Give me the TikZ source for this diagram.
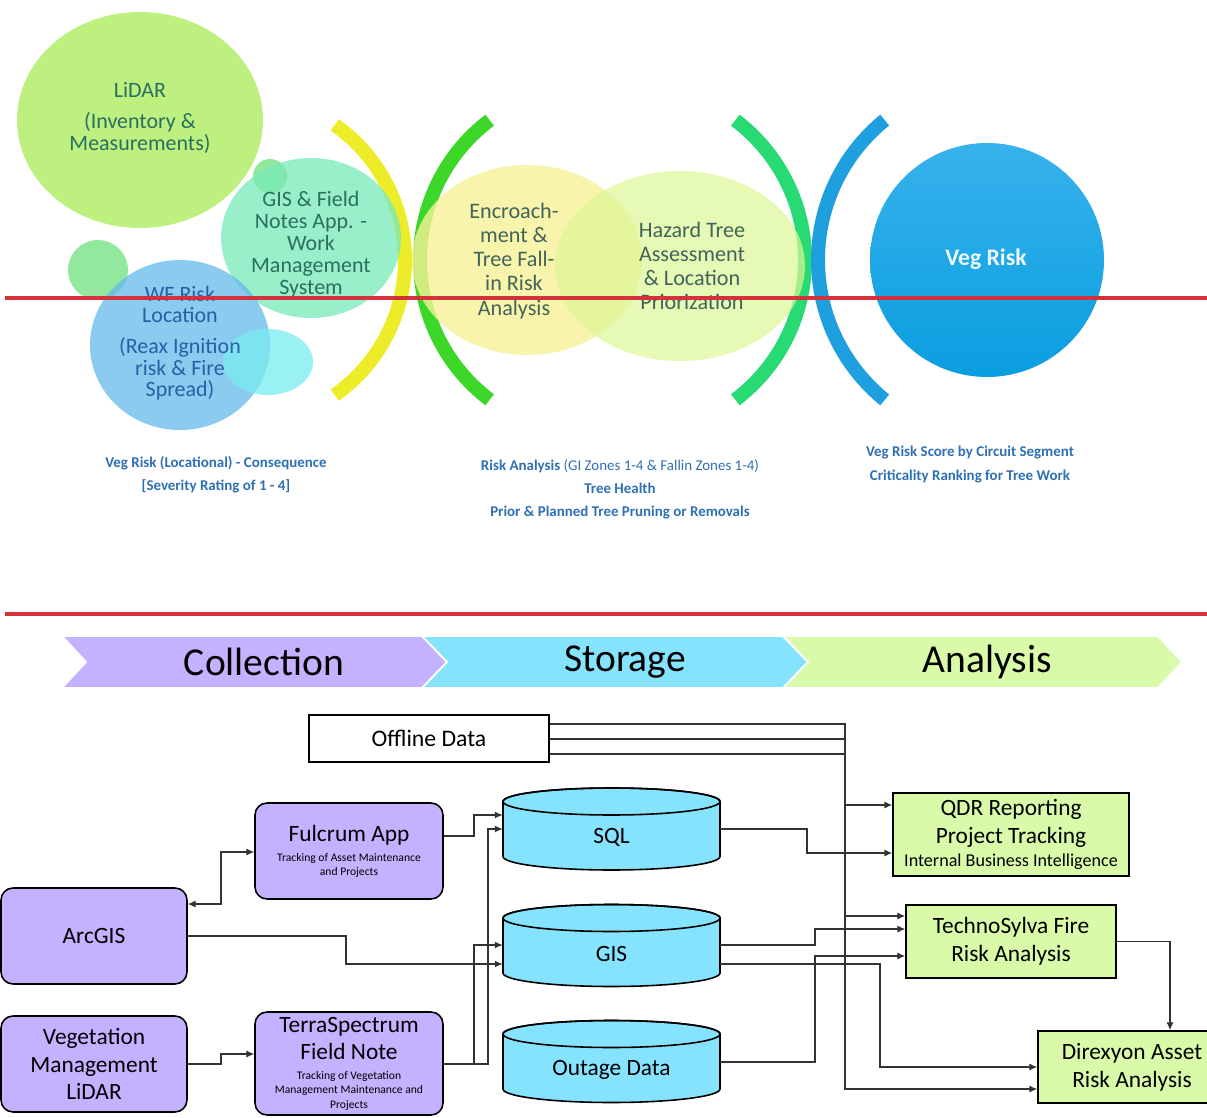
\documentclass[tikz,border=0pt]{standalone}
\usepackage{fontspec}
\setmainfont{Carlito}
\usetikzlibrary{arrows.meta,calc}
\definecolor{lidarfill}{RGB}{190,240,128}
\definecolor{dotgreen}{RGB}{110,225,125}
\definecolor{gisfill}{RGB}{120,233,185}
\definecolor{wffill}{RGB}{100,185,235}
\definecolor{cyanfill}{RGB}{120,236,240}
\definecolor{arcyellow}{RGB}{236,236,40}
\definecolor{arcgreen}{RGB}{60,215,40}
\definecolor{arcmint}{RGB}{40,218,115}
\definecolor{arcblue}{RGB}{30,160,222}
\definecolor{encrfill}{RGB}{246,241,150}
\definecolor{hazfill}{RGB}{220,246,150}
\definecolor{vegtop}{RGB}{55,178,236}
\definecolor{vegbot}{RGB}{10,158,224}
\definecolor{tealtext}{RGB}{40,112,95}
\definecolor{wftext}{RGB}{40,95,165}
\definecolor{encrtext}{RGB}{65,100,90}
\definecolor{captblue}{RGB}{46,112,180}
\definecolor{redline}{RGB}{210,50,60}
\definecolor{collectfill}{RGB}{196,177,255}
\definecolor{storefill}{RGB}{134,227,253}
\definecolor{analyfill}{RGB}{217,250,168}
\newcommand{\tinytext}{\fontsize{6.6}{8}\selectfont}

\begin{document}
\begin{tikzpicture}[x=0.02cm,y=0.02cm,
	arcline/.style={line width=0.28cm},
	soft/.style={fill opacity=0.75},
	bubtext/.style={align=center,font=\fontsize{12.5}{12.5}\selectfont},
	capt/.style={align=center,text=captblue,font=\fontsize{8.5}{13.2}\selectfont\bfseries},
	stagetext/.style={font=\fontsize{22.5}{24}\selectfont},
	purplebox/.style={draw,line width=0.9pt,fill=collectfill,rounded corners=0.24cm,align=center,
		font=\fontsize{13.3}{15.8}\selectfont},
	greenbox/.style={draw,line width=0.9pt,fill=analyfill,align=center,
		font=\fontsize{13.3}{16}\selectfont},
	db/.style={draw,line width=0.9pt,fill=storefill},
	link/.style={draw=black!80,line width=0.6pt,-{Latex[length=4.5pt,width=4pt]}}]
\useasboundingbox (0,0) rectangle (1207,-1118);

% --- bubbles
\fill[lidarfill] (140,-120) ellipse[x radius=123,y radius=108];
\fill[dotgreen,soft] (270,-176) circle[radius=17];
\fill[dotgreen,soft] (98,-270) circle[radius=30];
\draw[arcline,draw=arcyellow] (240,-260) ++(-55:165) arc[start angle=-55,end angle=55,radius=165];
\fill[gisfill,soft] (311,-238) ellipse[x radius=90,y radius=80];
\fill[wffill,soft] (180,-345) ellipse[x radius=90,y radius=85];
\fill[cyanfill,soft] (268,-362) ellipse[x radius=45,y radius=33];
\node[bubtext,text=tealtext] (lidar) at (140,-118)
	{LiDAR\\[5pt](Inventory \&\\Measurements)};
\node[bubtext,text=tealtext] (gisapp) at (311,-245)
	{GIS \& Field\\Notes App. -\\Work\\Management\\System};
\node[bubtext,text=wftext,font=\fontsize{12.5}{12.2}\selectfont] (wfrisk) at (180,-343)
	{WF Risk\\Location\\[5.4pt](Reax Ignition\\risk \& Fire\\Spread)};

% --- risk analysis
\draw[arcline,draw=arcgreen] (595,-260) ++(127:175) arc[start angle=127,end angle=233,radius=175];
\draw[arcline,draw=arcmint] (630,-260) ++(-53:175) arc[start angle=-53,end angle=53,radius=175];
\fill[encrfill,fill opacity=0.8] (527,-260) ellipse[x radius=115,y radius=95];
\fill[hazfill,fill opacity=0.7] (680,-266) ellipse[x radius=125,y radius=95];
\node[bubtext,text=encrtext,font=\fontsize{12.6}{13.7}\selectfont] (encroach) at (514,-261)
	{Encroach-\\ment \&\\Tree Fall-\\in Risk\\Analysis};
\node[bubtext,text=encrtext,font=\fontsize{12.6}{13.7}\selectfont] (hazard) at (692,-266)
	{Hazard Tree\\Assessment\\\& Location\\Priorization};

% --- veg risk
\draw[arcline,draw=arcblue] (998,-260) ++(129:180) arc[start angle=129,end angle=231,radius=180];
\shade[top color=vegtop,bottom color=vegbot] (987,-260) circle[radius=117];
\node[text=white!92!cyan,font=\fontsize{13.5}{15}\selectfont\bfseries] (vegrisk) at (986,-259) {Veg Risk};

% --- captions
\node[capt] (cap1) at (216,-475) {Veg Risk (Locational) - Consequence\\{}[Severity Rating of 1 - 4]};
\node[capt] (cap2) at (620,-489) {Risk Analysis {\mdseries(GI Zones 1-4 \& Fallin Zones 1-4)}\\Tree Health\\Prior \& Planned Tree Pruning or Removals};
\node[capt] (cap3) at (970,-464.5) {Veg Risk Score by Circuit Segment\\Criticality Ranking for Tree Work};

\draw[redline,line width=1.9pt] (5,-298) -- (1207,-298);
\draw[redline,line width=1.9pt] (5,-614) -- (1207,-614);

% --- stages
\filldraw[fill=collectfill,draw=white,line width=1pt] (62,-636) -- (422,-636) -- (447,-662) -- (422,-688) -- (62,-688) -- (86,-662) -- cycle;
\filldraw[fill=storefill,draw=white,line width=1pt] (422,-636) -- (783,-636) -- (808,-662) -- (783,-688) -- (422,-688) -- (447,-662) -- cycle;
\filldraw[fill=analyfill,draw=white,line width=1pt] (783,-636) -- (1158,-636) -- (1182,-662) -- (1158,-688) -- (783,-688) -- (808,-662) -- cycle;
\node[stagetext] (collect) at (264,-662) {Collection};
\node[stagetext] (store) at (625,-662) {Storage};
\node[stagetext] (analy) at (987,-662) {Analysis};

% --- collection
\node[draw,line width=0.9pt,fill=white,minimum width=4.8cm,minimum height=0.94cm,
	font=\fontsize{13.5}{16}\selectfont] (offline) at (429,-738.5) {Offline Data};
\node[purplebox,minimum width=3.76cm,minimum height=1.92cm] (fulcrum) at (349,-851)
	{Fulcrum App\\[-4.4pt]{\tinytext Tracking of Asset Maintenance}\\[-7.8pt]{\tinytext and Projects}};
\node[purplebox,minimum width=3.72cm,minimum height=1.92cm] (arcgis) at (94,-936) {ArcGIS};
\node[purplebox,minimum width=3.72cm,minimum height=1.92cm] (veglidar) at (94,-1064)
	{Vegetation\\Management\\LiDAR};
\node[purplebox,minimum width=3.76cm,minimum height=2.06cm,inner sep=2pt] (terra) at (349,-1063.5)
	{TerraSpectrum\\Field Note\\[-4.4pt]{\tinytext Tracking of Vegetation}\\[-7.8pt]{\tinytext Management Maintenance and}\\[-7.8pt]{\tinytext Projects}};

% --- storage
\begin{scope}[shift={(611.5,-829)}]
	\path[db] (-108.5,27.5) -- (-108.5,-27.5) arc[start angle=180,end angle=360,x radius=108.5,y radius=13.5]
		-- (108.5,27.5) arc[start angle=0,end angle=180,x radius=108.5,y radius=13.5] -- cycle;
	\draw[line width=0.9pt] (0,27.5) ellipse[x radius=108.5,y radius=13.5];
	\node[minimum width=4.34cm,font=\fontsize{13.3}{16}\selectfont] (sql) at (0,-8) {SQL};
\end{scope}
\begin{scope}[shift={(611.5,-945.5)}]
	\path[db] (-108.5,27.5) -- (-108.5,-27.5) arc[start angle=180,end angle=360,x radius=108.5,y radius=13.5]
		-- (108.5,27.5) arc[start angle=0,end angle=180,x radius=108.5,y radius=13.5] -- cycle;
	\draw[line width=0.9pt] (0,27.5) ellipse[x radius=108.5,y radius=13.5];
	\node[minimum width=4.34cm,font=\fontsize{13.3}{16}\selectfont] (gis) at (0,-8) {GIS};
\end{scope}
\begin{scope}[shift={(611.5,-1061.5)}]
	\path[db] (-108.5,27.5) -- (-108.5,-27.5) arc[start angle=180,end angle=360,x radius=108.5,y radius=13.5]
		-- (108.5,27.5) arc[start angle=0,end angle=180,x radius=108.5,y radius=13.5] -- cycle;
	\draw[line width=0.9pt] (0,27.5) ellipse[x radius=108.5,y radius=13.5];
	\node[minimum width=4.34cm,font=\fontsize{13.3}{16}\selectfont] (outage) at (0,-8) {Outage Data};
\end{scope}

% --- analysis
\node[greenbox,minimum width=4.72cm,minimum height=1.66cm] (qdr) at (1011,-834.5)
	{QDR Reporting\\Project Tracking\\[-3pt]{\fontsize{10.3}{12}\selectfont Internal Business Intelligence}};
\node[greenbox,minimum width=4.2cm,minimum height=1.46cm] (techno) at (1011,-941.5)
	{TechnoSylva Fire\\Risk Analysis};
\node[greenbox,minimum width=3.76cm,minimum height=1.44cm] (direx) at (1132,-1067)
	{Direxyon Asset\\Risk Analysis};

% --- links
\draw[link] (offline.east |- 0,-724) -| (845,-805) -- (qdr.west |- 0,-805);
\draw[link] (offline.east |- 0,-739) -| (845,-916) -- (techno.west |- 0,-916);
\draw[link] (offline.east |- 0,-754) -| (845,-1089) -- (direx.west |- 0,-1089);
\draw[link] (sql.east |- 0,-829) -| (807,-853) -- (qdr.west |- 0,-853);
\draw[link] (gis.east |- 0,-945) -| (815,-929) -- (techno.west |- 0,-929);
\draw[link] (gis.east |- 0,-964) -| (880,-1067) -- (direx.west |- 0,-1067);
\draw[link] (outage.east |- 0,-1062) -| (815,-956) -- (techno.west |- 0,-956);
\draw[link] (techno.east) -| (direx.north -| 1170,0);
\draw[link] (fulcrum.east |- 0,-836) -| (474,-815) -- (sql.west |- 0,-815);
\draw[link] (terra.east |- 0,-1064) -| (488,-829) -- (sql.west |- 0,-829);
\draw[link] (terra.east |- 0,-1064) -| (474,-945) -- (gis.west |- 0,-945);
\draw[link] (arcgis.east) -| (346,-964) -- (gis.west |- 0,-964);
\draw[link,{Latex[length=4.5pt,width=4pt]}-{Latex[length=4.5pt,width=4pt]}] (arcgis.east |- 0,-904) -| (221,-852) -- (fulcrum.west |- 0,-852);
\draw[link] (veglidar.east) -| (221,-1054) -- (terra.west |- 0,-1054);
\end{tikzpicture}
\end{document}
